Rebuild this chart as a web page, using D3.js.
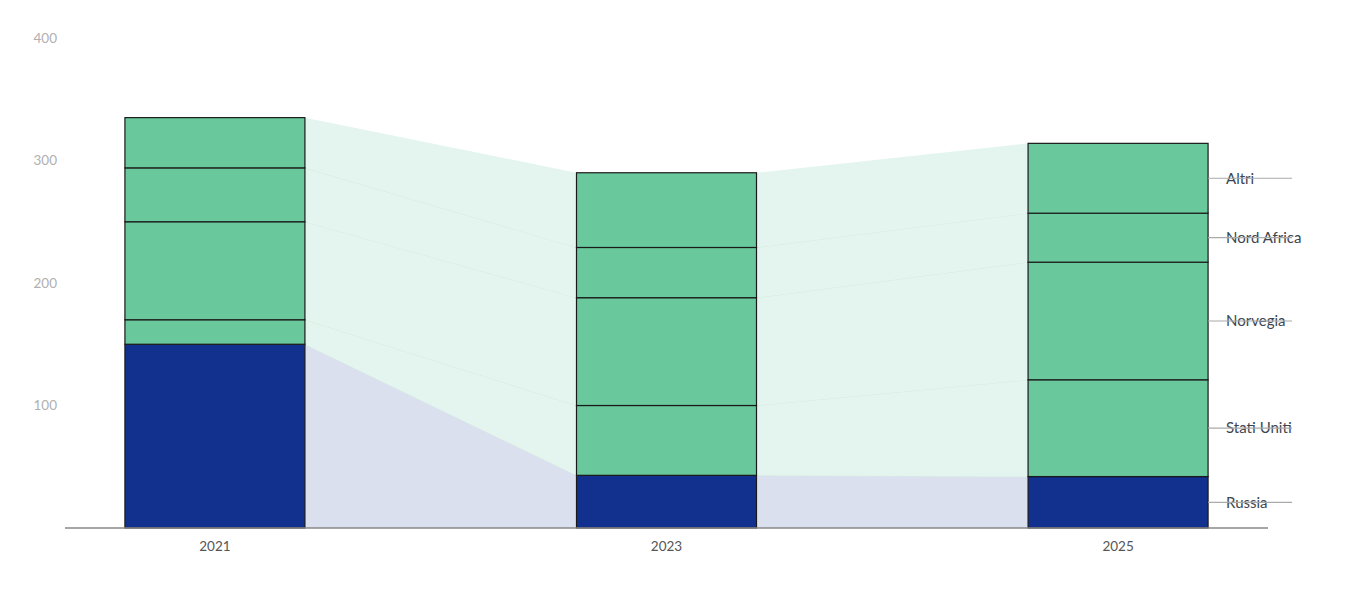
<!DOCTYPE html>
<html>
<head>
<meta charset="utf-8">
<script src="https://cdn.jsdelivr.net/npm/d3@7"></script>
<style>
  body { margin: 0; background: #fff; }
  svg { display: block; font-family: Lato, "Open Sans", sans-serif; }
</style>
</head>
<body>
<svg id="chart" width="1352" height="600"></svg>
<script>
// dati (miliardi di m3 circa)
const years = ["2021", "2023", "2025"];
const series = ["Russia", "Stati Uniti", "Norvegia", "Nord Africa", "Altri"];
const russia = [150, 43, 42];
const statiUniti = [20, 57, 79];
const norvegia = [80, 88, 96];
const nordAfrica = [44, 41, 40];
const altri = [41, 61, 57];
const yTicks = [100, 200, 300, 400];

const rows = years.map((y, i) => ({
    year: y,
    "Russia": russia[i],
    "Stati Uniti": statiUniti[i],
    "Norvegia": norvegia[i],
    "Nord Africa": nordAfrica[i],
    "Altri": altri[i]
}));

const svg = d3.select("#chart");
const barW = 180;

const x = d3.scalePoint().domain(years).range([65, 1268]).padding(0.332);
const y = d3.scaleLinear().domain([0, 400]).range([528, 38]);

const stacked = d3.stack().keys(series)(rows);

const barColor = k => k === "Russia" ? "#12318f" : "#69c99c";
const flowColor = k => k === "Russia" ? "#dbe0ee" : "#e3f5ee";

// flussi tra le colonne
const flows = svg.append("g");
stacked.forEach(layer => {
    for (let i = 0; i < layer.length - 1; i++) {
        const a = layer[i], b = layer[i + 1];
        const pts = [
            { x: x(a.data.year) + barW / 2, y0: a[0], y1: a[1] },
            { x: x(b.data.year) - barW / 2, y0: b[0], y1: b[1] }
        ];
        flows.append("path")
            .attr("d", d3.area().x(d => d.x).y0(d => y(d.y0)).y1(d => y(d.y1))(pts))
            .attr("fill", flowColor(layer.key));
        if (layer.key !== "Altri") {
            flows.append("path")
                .attr("d", d3.line().x(d => d.x).y(d => y(d.y1))(pts))
                .attr("fill", "none")
                .attr("stroke", "#d6ebe2")
                .attr("stroke-width", 1);
        }
    }
});

// colonne
const bars = svg.append("g");
stacked.forEach(layer => {
    bars.selectAll(null)
        .data(layer)
        .join("rect")
        .attr("x", d => x(d.data.year) - barW / 2)
        .attr("y", d => y(d[1]))
        .attr("width", barW)
        .attr("height", d => y(d[0]) - y(d[1]))
        .attr("fill", barColor(layer.key))
        .attr("stroke", "#1a1a1a")
        .attr("stroke-width", 1.2);
});

// asse y (solo etichette)
svg.append("g")
    .selectAll("text")
    .data(yTicks)
    .join("text")
    .attr("x", 57)
    .attr("y", d => y(d))
    .attr("dy", "0.35em")
    .attr("text-anchor", "end")
    .attr("fill", "#b0b0b0")
    .attr("font-size", 13.5)
    .text(d => d);

// asse x
const xAxis = svg.append("g").attr("transform", `translate(0,${y(0)})`);
xAxis.append("line")
    .attr("x1", 65).attr("x2", 1268)
    .attr("stroke", "#888").attr("stroke-width", 1.5);
xAxis.selectAll("text")
    .data(years)
    .join("text")
    .attr("x", d => x(d))
    .attr("y", 23)
    .attr("text-anchor", "middle")
    .attr("fill", "#555")
    .attr("font-size", 13.5)
    .text(d => d);

// etichette a destra, a metà di ogni segmento dell'ultima colonna
const last = years.length - 1;
const labels = svg.append("g");
stacked.forEach(layer => {
    const d = layer[last];
    const ym = y((d[0] + d[1]) / 2);
    const x0 = x(years[last]) + barW / 2;
    labels.append("text")
        .attr("x", x0 + 18)
        .attr("y", ym)
        .attr("dy", "0.35em")
        .attr("fill", "#3d4650")
        .attr("font-size", 15)
        .text(layer.key);
    labels.append("line")
        .attr("x1", x0).attr("x2", x0 + 84)
        .attr("y1", ym).attr("y2", ym)
        .attr("stroke", "#aaa").attr("stroke-width", 1.2);
});
</script>
</body>
</html>
